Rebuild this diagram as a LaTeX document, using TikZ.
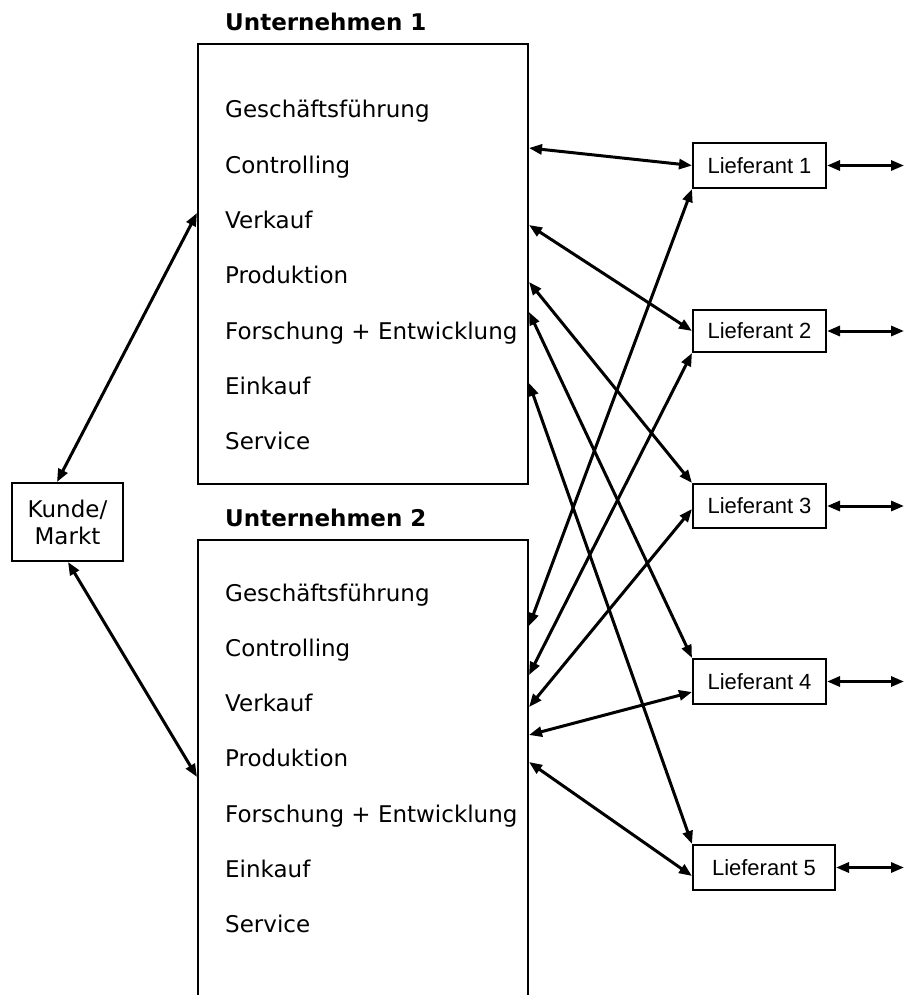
\documentclass[tikz,border=0pt]{standalone}
\usepackage{fontspec}
\setmainfont{DejaVu Sans}
\newfontfamily\liefont{Liberation Sans}
\usetikzlibrary{arrows.meta}
\begin{document}
\begin{tikzpicture}[x=1pt,y=-1pt,
  box/.style={draw, line width=2pt, inner sep=0pt},
  firm/.style={box, minimum width=330pt},
  item/.style={anchor=base west, inner sep=0pt, font=\fontsize{23}{26}\selectfont},
  heading/.style={anchor=base west, inner sep=0pt, font=\fontsize{23}{26}\selectfont\bfseries},
  supp/.style={box, minimum height=45pt, minimum width=133pt, font=\liefont\fontsize{22}{26}\selectfont},
  link/.style={line width=3pt, {Triangle[length=13pt,width=10pt]}-{Triangle[length=13pt,width=10pt]}}
]
\useasboundingbox (0,0) rectangle (905,995);
\clip (0,0) rectangle (905,995);

% the two companies
\node[heading] (t1) at (225,31) {Unternehmen 1};
\node[firm, minimum height=440pt] (u1) at (363,264) {};
\node[heading] (t2) at (225,526) {Unternehmen 2};
\node[firm, minimum height=480pt] (u2) at (363,780) {};

% departments
\foreach \txt [count=\i from 0] in {Geschäftsführung, Controlling, Verkauf, Produktion, Forschung + Entwicklung, Einkauf, Service} {
  \node[item] (a\i) at (225,118+55.3*\i) {\txt};
  \node[item] (b\i) at (225,601+55.3*\i) {\txt};
}

% customer / market
\node[box, minimum width=111pt, minimum height=78pt, align=center,
      font=\fontsize{23}{27}\selectfont] (kunde) at (67.5,522) {Kunde/\\Markt};

% suppliers
\node[supp] (l1) at (759.5,165.5) {Lieferant 1};
\node[supp, minimum height=42pt] (l2) at (759.5,331) {Lieferant 2};
\node[supp, minimum height=44pt] (l3) at (759.5,506) {Lieferant 3};
\node[supp] (l4) at (759.5,681.5) {Lieferant 4};
\node[supp, minimum width=142pt] (l5) at (764,867.5) {Lieferant 5};

% customer links
\draw[link] (57,0 |- kunde.north) -- (u1.west |- 0,213);
\draw[link] (68,0 |- kunde.south) -- (u2.west |- 0,777);

% company 1 to suppliers
\draw[link] (u1.east |- 0,148) -- (l1.west);
\draw[link] (u1.east |- 0,225) -- (l2.west);
\draw[link] (u1.east |- 0,282) -- (l3.north west);
\draw[link] (u1.east |- 0,312) -- (l4.north west);
\draw[link] (u1.east |- 0,383) -- (l5.north west);

% company 2 to suppliers
\draw[link] (u2.east |- 0,626) -- (l1.south west);
\draw[link] (u2.east |- 0,675) -- (l2.south west);
\draw[link] (u2.east |- 0,707) -- (l3.west |- 0,509);
\draw[link] (u2.east |- 0,735) -- (l4.west |- 0,692);
\draw[link] (u2.east |- 0,762) -- (l5.west |- 0,876);

% links leaving to the right
\foreach \k in {1,...,5} {
  \coordinate (e\k) at (l\k.east -| 904,0);
  \draw[link] (l\k.east) -- (e\k);
}
\end{tikzpicture}
\end{document}
